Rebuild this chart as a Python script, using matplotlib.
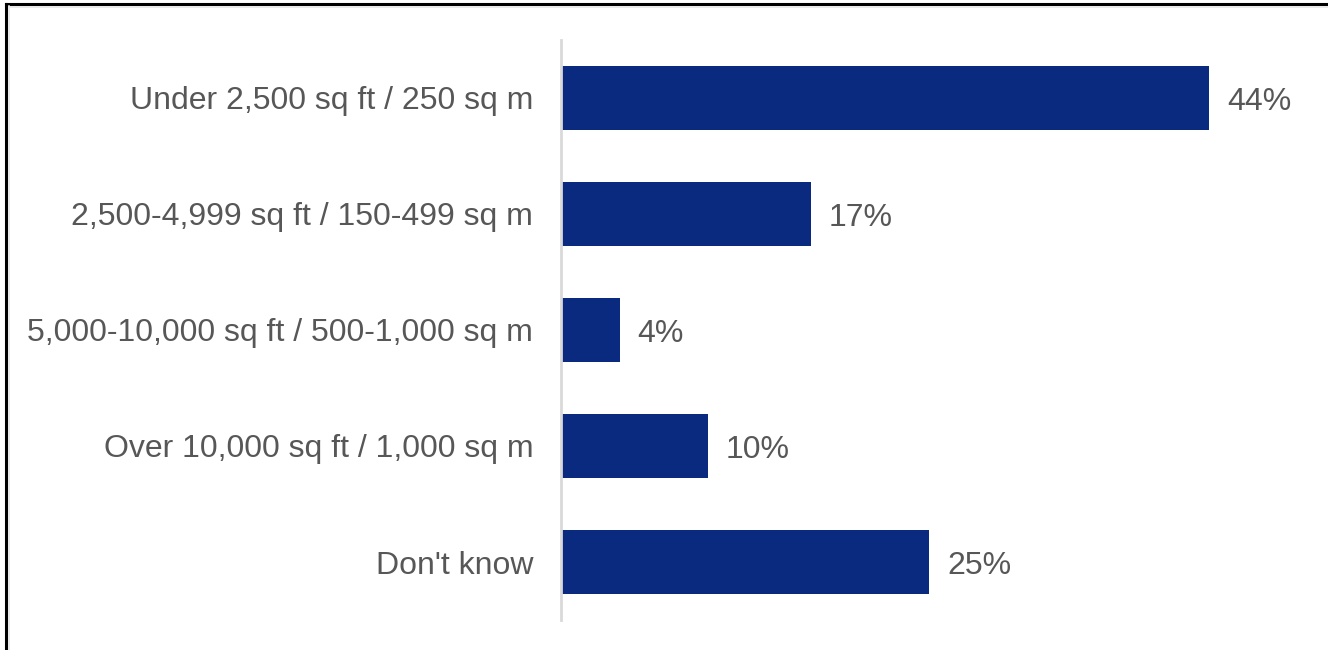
import matplotlib
matplotlib.use('Agg')
import matplotlib.pyplot as plt
from matplotlib.lines import Line2D

categories = [
    "Under 2,500 sq ft / 250 sq m",
    "2,500-4,999 sq ft / 150-499 sq m",
    "5,000-10,000 sq ft / 500-1,000 sq m",
    "Over 10,000 sq ft / 1,000 sq m",
    "Don't know",
]
shares = [44, 17, 4, 10, 25]

plt.rcParams['font.family'] = ['Liberation Sans', 'DejaVu Sans']
text_color = '#575757'
bar_color = '#0A2A7F'
fs = 23

W, H = 1328, 650
fig = plt.figure(figsize=(W / 100, H / 100), dpi=100)
ax = fig.add_axes([561 / W, 30 / H, (W - 561) / W, 580 / H])

y = list(range(len(categories)))
ax.barh(y, shares, height=0.56, color=bar_color)
ax.set_ylim(len(categories) - 0.5, -0.5)
ax.set_xlim(0, (W - 561) / 14.73)

for yi, v in zip(y, shares):
    ax.text(v + 1.2, yi, f"{v}%", va='center_baseline', ha='left',
            fontsize=fs, color=text_color)

ax.set_yticks(y)
ax.set_yticklabels(categories, fontsize=fs, color=text_color)
ax.tick_params(axis='y', length=0, pad=20)
ax.set_xticks([])
for side in ['top', 'right', 'bottom']:
    ax.spines[side].set_visible(False)
ax.spines['left'].set_color('#D9D9D9')
ax.spines['left'].set_linewidth(2)

# frame along the left and top edges
fig.add_artist(Line2D([6 / W, 6 / W], [0, 1 - 3.5 / H], transform=fig.transFigure,
                      color='black', linewidth=2.2))
fig.add_artist(Line2D([6 / W, 1], [1 - 4 / H, 1 - 4 / H], transform=fig.transFigure,
                      color='black', linewidth=2.2))
fig.add_artist(Line2D([9 / W, 9 / W], [0, 1 - 6 / H], transform=fig.transFigure,
                      color='#E6E6E6', linewidth=1.2))
fig.add_artist(Line2D([9 / W, 1], [1 - 7 / H, 1 - 7 / H], transform=fig.transFigure,
                      color='#E6E6E6', linewidth=1.2))

fig.savefig('out.png', dpi=100)
